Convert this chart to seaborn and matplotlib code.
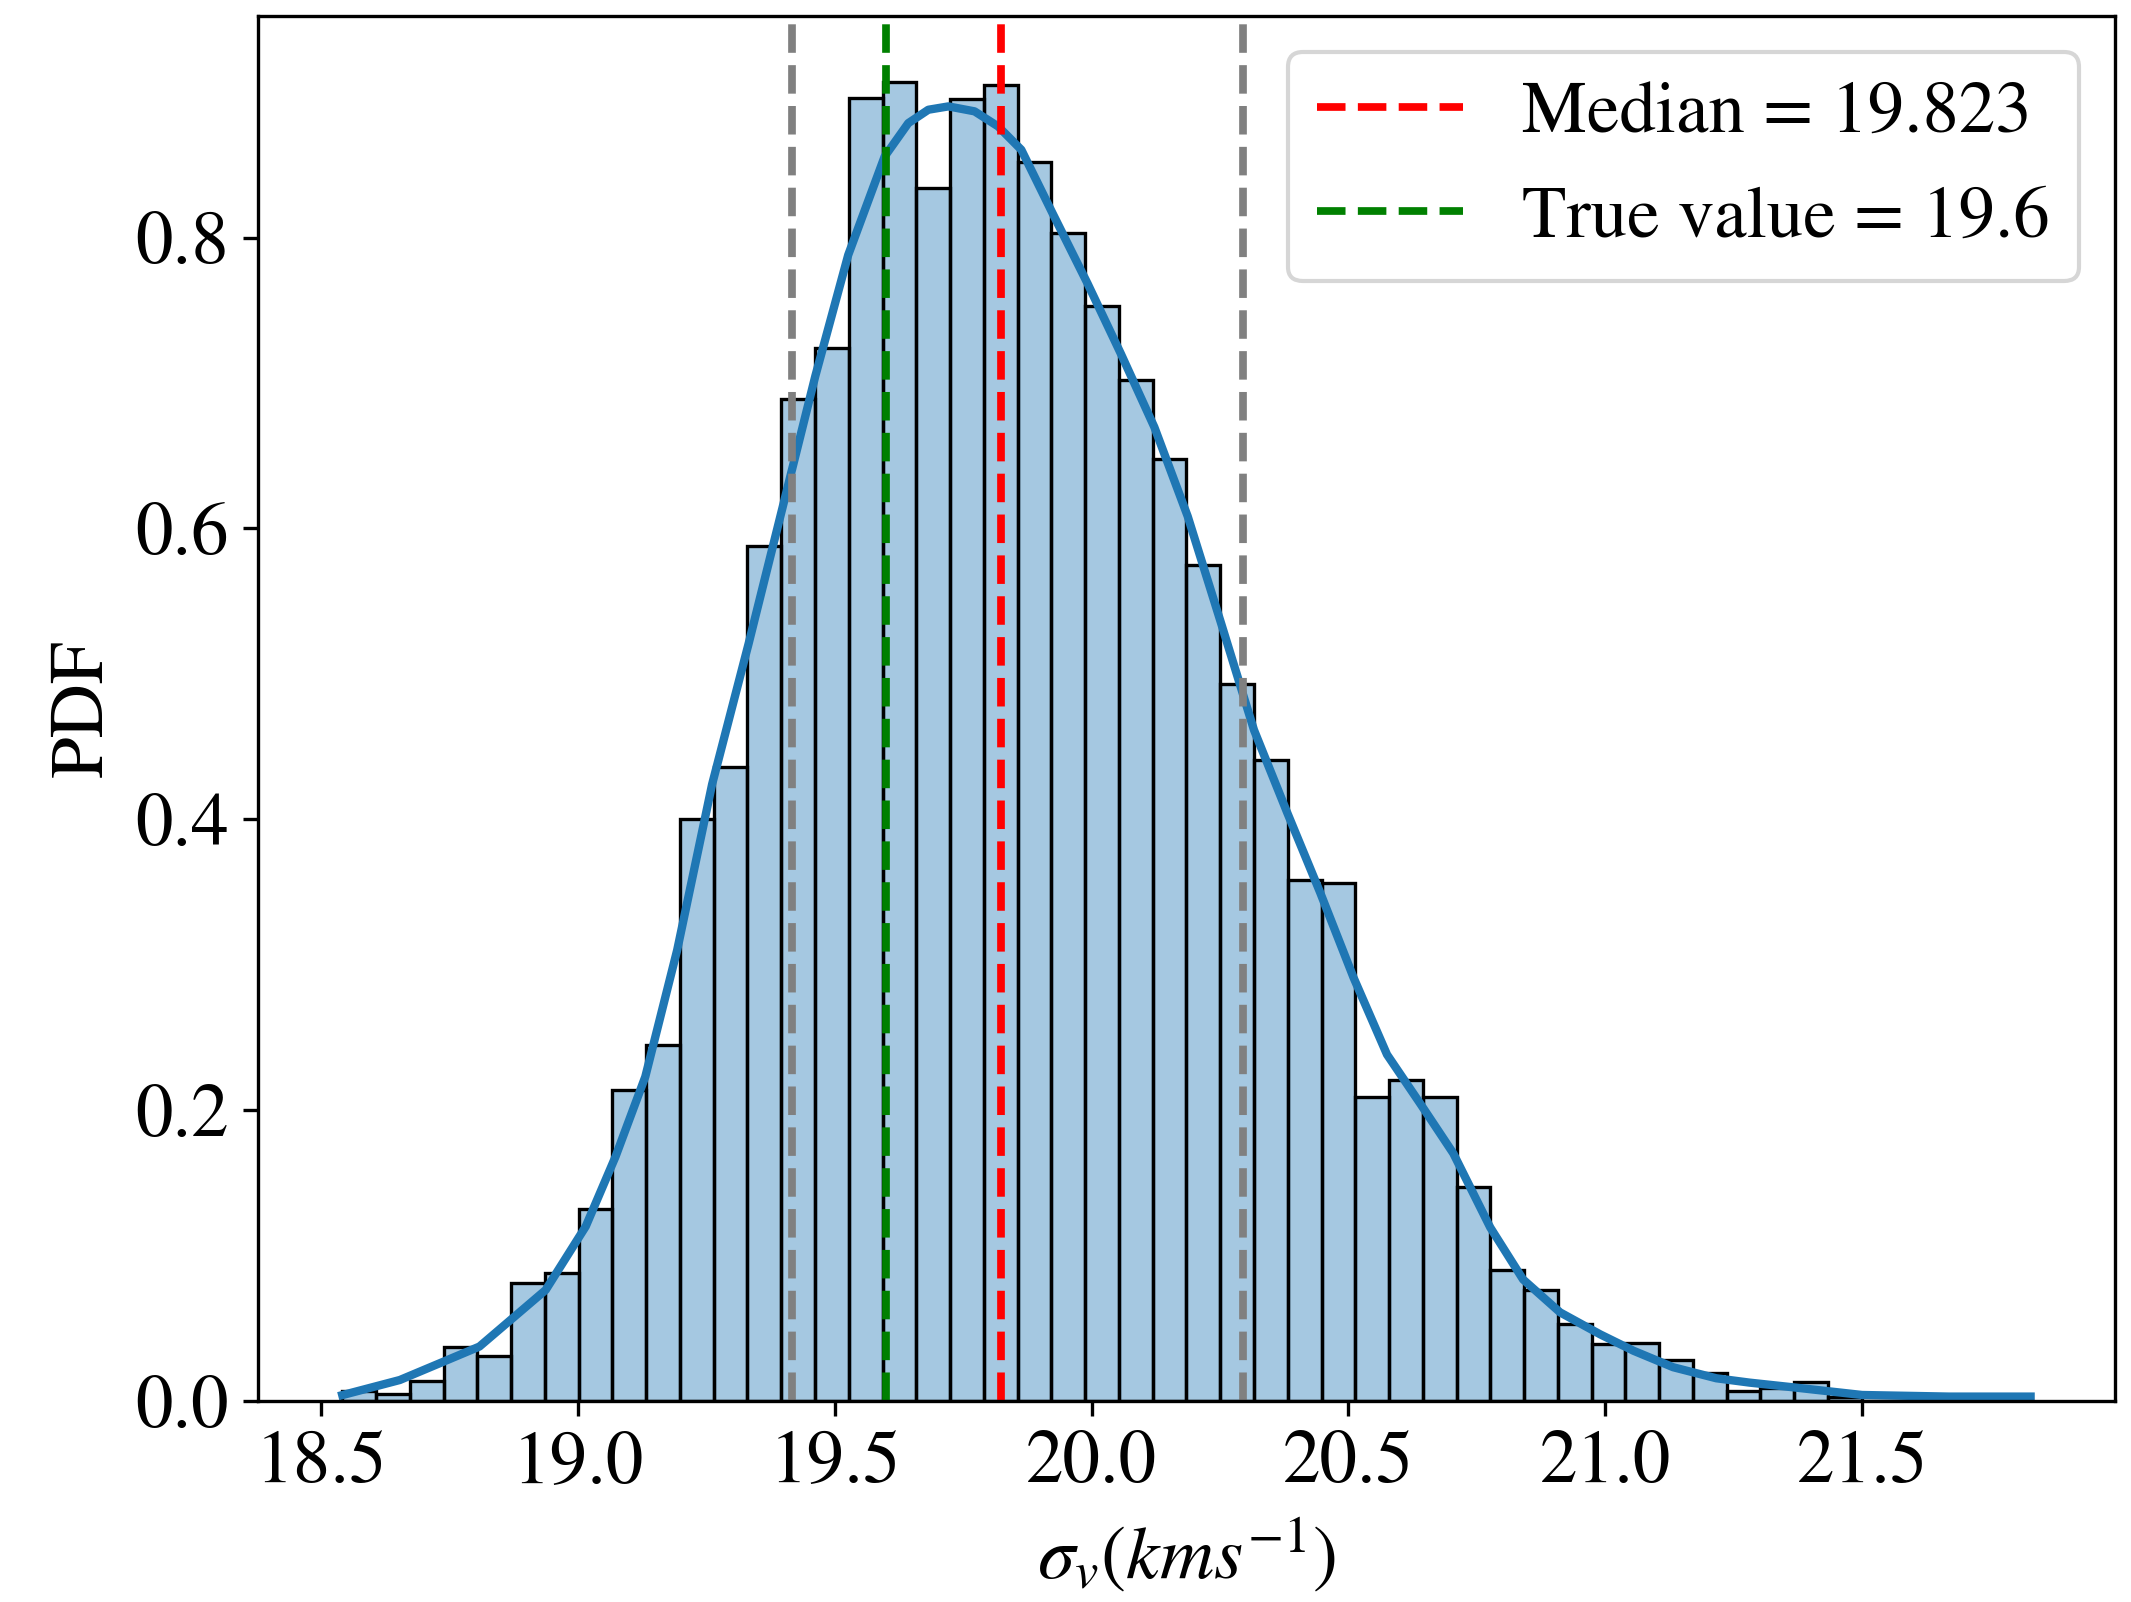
import numpy as np
import pandas as pd
import seaborn as sns
import matplotlib.pyplot as plt

# -------------------------------------------------------------------
# Data
# -------------------------------------------------------------------

# histogram: 50 equal bins between the sample min and max
bin_lo = 18.541
bin_hi = 21.828
n_bins = 50

# bar heights (PDF) per bin, left to right
pdf_heights = [
    0.007, 0.005, 0.014, 0.037, 0.031, 0.081, 0.088, 0.132, 0.214, 0.245,
    0.400, 0.436, 0.588, 0.689, 0.724, 0.896, 0.907, 0.834, 0.895, 0.905,
    0.852, 0.803, 0.753, 0.702, 0.648, 0.575, 0.493, 0.441, 0.358, 0.356,
    0.209, 0.221, 0.209, 0.147, 0.090, 0.076, 0.053, 0.039, 0.040, 0.028,
    0.019, 0.007, 0.009, 0.013, 0.003, 0.0, 0.0, 0.0, 0.0, 0.002,
]

# KDE curve, points
kde_x = [18.541, 18.653, 18.808, 18.937, 19.015, 19.073, 19.131, 19.193,
         19.261, 19.332, 19.397, 19.462, 19.526, 19.597, 19.643, 19.682,
         19.721, 19.772, 19.818, 19.863, 19.924, 19.992, 20.057, 20.122,
         20.187, 20.251, 20.316, 20.381, 20.445, 20.510, 20.575, 20.640,
         20.704, 20.776, 20.840, 20.912, 20.990, 21.055, 21.132, 21.216,
         21.281, 21.365, 21.500, 21.669, 21.828]
kde_y = [0.004, 0.0144, 0.0374, 0.0763, 0.120, 0.168, 0.223, 0.310,
         0.424, 0.5206, 0.6127, 0.7048, 0.788, 0.8558, 0.8787, 0.8879,
         0.8902, 0.8868, 0.8764, 0.8604, 0.8166, 0.7684, 0.720, 0.6697,
         0.6083, 0.5359, 0.4614, 0.4043, 0.3495, 0.291, 0.2382, 0.2043,
         0.1703, 0.1193, 0.0835, 0.0609, 0.0458, 0.0345, 0.0232, 0.0156,
         0.0126, 0.0094, 0.0041, 0.003, 0.003]

# reference lines
median_val = 19.823
true_val = 19.6
lower_q = 19.416
upper_q = 20.295

# -------------------------------------------------------------------
# Build table for seaborn
# -------------------------------------------------------------------
edges = np.linspace(bin_lo, bin_hi, n_bins + 1)
centers = 0.5 * (edges[:-1] + edges[1:])
hist_df = pd.DataFrame({"sigma_v": centers, "pdf": pdf_heights})
kde_df = pd.DataFrame({"sigma_v": kde_x, "pdf": kde_y})

# -------------------------------------------------------------------
# Plot
# -------------------------------------------------------------------
plt.rcParams["font.family"] = "STIXGeneral"
plt.rcParams["mathtext.fontset"] = "stix"
plt.rcParams["font.size"] = 18

fig = plt.figure(figsize=(2131 / 300, 1602 / 300), dpi=300)
ax = fig.add_axes([0.121, 0.1255, 0.8715, 0.8645])

sns.histplot(
    data=hist_df, x="sigma_v", weights="pdf",
    bins=n_bins, binrange=(bin_lo, bin_hi),
    color="C0", alpha=0.4, edgecolor="black", linewidth=0.8, ax=ax,
)
sns.lineplot(data=kde_df, x="sigma_v", y="pdf", color="C0", linewidth=2.0, ax=ax)

ax.axvline(lower_q, color="gray", linestyle="--", linewidth=1.85)
ax.axvline(upper_q, color="gray", linestyle="--", linewidth=1.85)
ax.axvline(median_val, color="red", linestyle="--", linewidth=1.85,
           label=f"Median = {median_val}")
ax.axvline(true_val, color="green", linestyle="--", linewidth=1.85,
           label=f"True value = {true_val}")

ax.set_xlabel(r"$\sigma_v (kms^{-1})$")
ax.set_ylabel("PDF")
ax.set_xticks([18.5, 19.0, 19.5, 20.0, 20.5, 21.0, 21.5])
ax.set_yticks([0.0, 0.2, 0.4, 0.6, 0.8])
ax.legend(loc="upper right", fontsize=17.5)

plt.savefig("out.png", dpi=300)
plt.close()
